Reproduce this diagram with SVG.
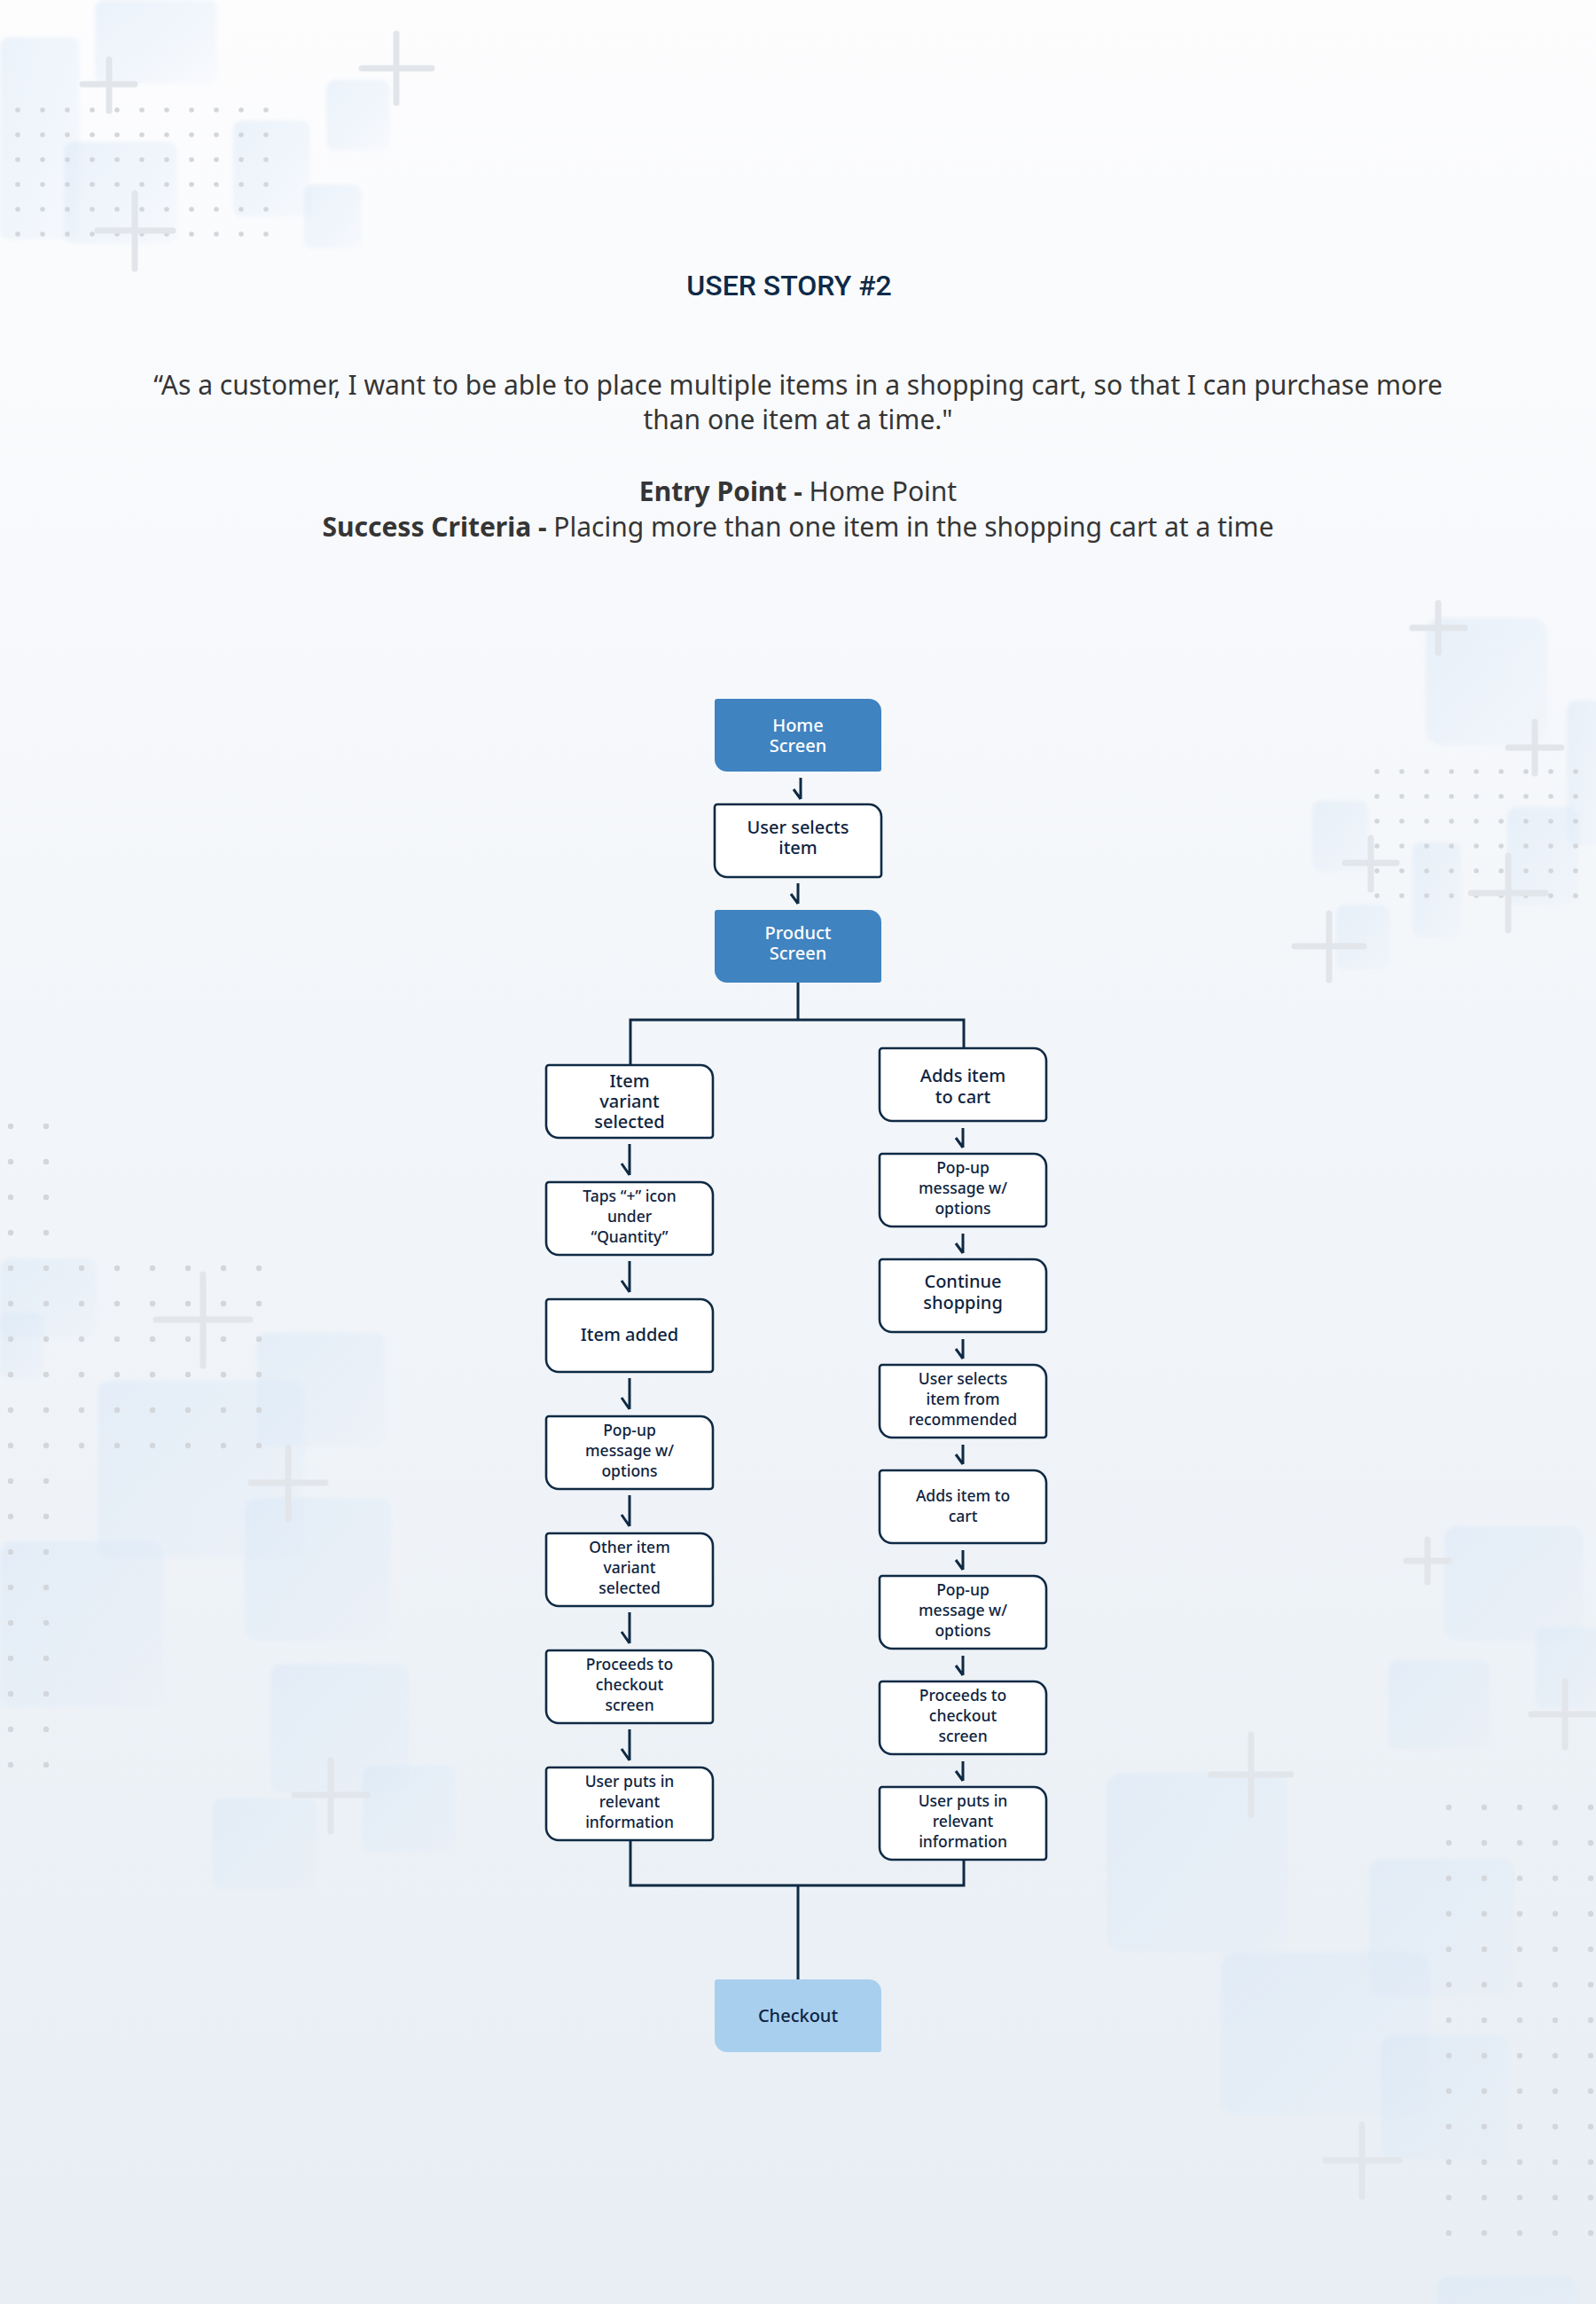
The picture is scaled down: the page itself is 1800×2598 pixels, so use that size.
<svg xmlns="http://www.w3.org/2000/svg" xmlns:xlink="http://www.w3.org/1999/xlink" width="1800" height="2598" viewBox="0 0 1800 2598">
<defs>
<style>
.bgcross{stroke:#e2e5ea;stroke-width:7;stroke-linecap:round;fill:none}
.sq{fill:url(#sqg);filter:url(#soft)}
.box{fill:#ffffff;stroke:#0f2a44;stroke-width:2.6}
.blue{fill:#3f83c1}
.light{fill:#a9cfef}
.conn{fill:none;stroke:#0f2a44;stroke-width:3;stroke-linejoin:miter}
.t{font-family:"Noto Sans","Open Sans","DejaVu Sans",sans-serif;font-weight:500;text-anchor:middle;fill:#0f2440}
.w{fill:#ffffff}
.f20{font-size:20px}
.f17{font-size:17.5px}
.head{font-family:Roboto,"Liberation Sans",sans-serif;font-size:32px;font-weight:500;fill:#0e2a47;text-anchor:middle}
.body{font-family:"Noto Sans","Open Sans",sans-serif;font-size:30px;fill:#353535;text-anchor:middle}
.b{font-weight:bold}
</style>
<filter id="soft" x="-10%" y="-10%" width="120%" height="120%"><feGaussianBlur stdDeviation="2"/></filter>
<linearGradient id="bg" x1="0" y1="0" x2="0" y2="1">
<stop offset="0" stop-color="#fdfdfe"/>
<stop offset="0.3" stop-color="#f6f8fb"/>
<stop offset="1" stop-color="#e8eef4"/>
</linearGradient>
<linearGradient id="sqg" x1="0" y1="0" x2="1" y2="1">
<stop offset="0" stop-color="#d8e7f7" stop-opacity="0.5"/>
<stop offset="1" stop-color="#d8e7f7" stop-opacity="0.12"/>
</linearGradient>
<pattern id="dA" patternUnits="userSpaceOnUse" x="6" y="110" width="28" height="28"><circle cx="14" cy="14" r="2.8" fill="#d3d6db"/></pattern>
<pattern id="dB" patternUnits="userSpaceOnUse" x="1539" y="856" width="28" height="28"><circle cx="14" cy="14" r="2.8" fill="#d3d6db"/></pattern>
<pattern id="dC" patternUnits="userSpaceOnUse" x="-8" y="1250" width="40" height="40"><circle cx="20" cy="20" r="3.2" fill="#d3d6db"/></pattern>
<pattern id="dD" patternUnits="userSpaceOnUse" x="1614" y="2018" width="40" height="40"><circle cx="20" cy="20" r="3.2" fill="#d3d6db"/></pattern>
<path id="leaf" d="M3,0 H174 A14,14 0 0 1 188,14 V79 A3,3 0 0 1 185,82 H14 A14,14 0 0 1 0,68 V3 A3,3 0 0 1 3,0 Z"/>
</defs>

<rect width="1800" height="2598" fill="url(#bg)"/>

<g id="background-decor">
<g id="squares">
<rect class="sq" x="0" y="42" width="90" height="228" rx="10"/>
<rect class="sq" x="107" y="0" width="138" height="95" rx="10"/>
<rect class="sq" x="72" y="160" width="128" height="115" rx="10"/>
<rect class="sq" x="263" y="136" width="87" height="109" rx="10"/>
<rect class="sq" x="368" y="90" width="72" height="80" rx="10"/>
<rect class="sq" x="343" y="208" width="65" height="72" rx="10"/>
<rect class="sq" x="1608" y="697" width="137" height="143" rx="18"/>
<rect class="sq" x="1767" y="790" width="40" height="163" rx="10"/>
<rect class="sq" x="1480" y="903" width="63" height="80" rx="10"/>
<rect class="sq" x="1593" y="950" width="55" height="107" rx="10"/>
<rect class="sq" x="1700" y="910" width="80" height="110" rx="10"/>
<rect class="sq" x="1507" y="1020" width="60" height="73" rx="10"/>
<rect class="sq" x="0" y="1419" width="109" height="89" rx="10"/>
<rect class="sq" x="0" y="1480" width="50" height="75" rx="10"/>
<rect class="sq" x="110" y="1557" width="233" height="200" rx="14"/>
<rect class="sq" x="290" y="1503" width="144" height="129" rx="10"/>
<rect class="sq" x="276" y="1689" width="165" height="161" rx="14"/>
<rect class="sq" x="0" y="1738" width="184" height="187" rx="14"/>
<rect class="sq" x="305" y="1876" width="156" height="146" rx="14"/>
<rect class="sq" x="409" y="1991" width="104" height="97" rx="10"/>
<rect class="sq" x="240" y="2028" width="117" height="102" rx="10"/>
<rect class="sq" x="1629" y="1721" width="157" height="129" rx="14"/>
<rect class="sq" x="1732" y="1835" width="75" height="91" rx="10"/>
<rect class="sq" x="1566" y="1872" width="114" height="101" rx="10"/>
<rect class="sq" x="1248" y="1999" width="204" height="202" rx="18"/>
<rect class="sq" x="1377" y="2201" width="235" height="184" rx="18"/>
<rect class="sq" x="1544" y="2096" width="164" height="155" rx="14"/>
<rect class="sq" x="1558" y="2295" width="143" height="140" rx="14"/>
<rect class="sq" x="1621" y="2567" width="158" height="50" rx="14"/>
</g>
<g id="dots">
<rect x="6" y="110" width="308" height="168" fill="url(#dA)"/>
<rect x="1539" y="856" width="252" height="168" fill="url(#dB)"/>
<rect x="-8" y="1250" width="80" height="760" fill="url(#dC)"/>
<rect x="72" y="1410" width="240" height="240" fill="url(#dC)"/>
<rect x="1614" y="2018" width="200" height="520" fill="url(#dD)"/>
</g>
<g id="crosses">
<path class="bgcross" d="M93,95 H152 M123,67 V125"/>
<path class="bgcross" d="M408,77 H487 M447,38 V116"/>
<path class="bgcross" d="M110,260 H195 M152,218 V303"/>
<path class="bgcross" d="M1593,708 H1652 M1622,680 V736"/>
<path class="bgcross" d="M1701,843 H1761 M1731,814 V872"/>
<path class="bgcross" d="M1517,973 H1575 M1546,945 V1003"/>
<path class="bgcross" d="M1659,1007 H1743 M1701,965 V1049"/>
<path class="bgcross" d="M1460,1067 H1538 M1499,1030 V1105"/>
<path class="bgcross" d="M176,1488 H282 M229,1437 V1540"/>
<path class="bgcross" d="M283,1672 H367 M325,1632 V1713"/>
<path class="bgcross" d="M332,2024 H414 M373,1985 V2065"/>
<path class="bgcross" d="M1586,1760 H1634 M1610,1736 V1784"/>
<path class="bgcross" d="M1727,1933 H1803 M1765,1896 V1970"/>
<path class="bgcross" d="M1366,2001 H1456 M1411,1956 V2046"/>
<path class="bgcross" d="M1495,2436 H1578 M1536,2396 V2477"/>
</g>
</g>

<g id="header">
<text class="head" x="890" y="333">USER STORY #2</text>
<text class="body" x="900" y="445">“As a customer, I want to be able to place multiple items in a shopping cart, so that I can purchase more</text>
<text class="body" x="900" y="484">than one item at a time."</text>
<text class="body" x="900" y="565"><tspan class="b">Entry Point -</tspan> Home Point</text>
<text class="body" x="900" y="605"><tspan class="b">Success Criteria -</tspan> Placing more than one item in the shopping cart at a time</text>
</g>

<g id="connectors">
<path class="conn" d="M903,877 V901 M895,890 L903,901"/>
<path class="conn" d="M900,996 V1019 M892,1008 L900,1019"/>
<path class="conn" d="M900,1108 V1150 M711,1201 V1150 H1087 V1182"/>
<path class="conn" d="M710,1290 V1325 M701,1312 L710,1325"/>
<path class="conn" d="M710,1422 V1457 M701,1444 L710,1457"/>
<path class="conn" d="M710,1554 V1589 M701,1576 L710,1589"/>
<path class="conn" d="M710,1686 V1721 M701,1708 L710,1721"/>
<path class="conn" d="M710,1818 V1853 M701,1840 L710,1853"/>
<path class="conn" d="M710,1950 V1985 M701,1972 L710,1985"/>
<path class="conn" d="M1086,1272 V1294 M1078,1283 L1086,1294"/>
<path class="conn" d="M1086,1391 V1413 M1078,1402 L1086,1413"/>
<path class="conn" d="M1086,1510 V1532 M1078,1521 L1086,1532"/>
<path class="conn" d="M1086,1629 V1651 M1078,1640 L1086,1651"/>
<path class="conn" d="M1086,1748 V1770 M1078,1759 L1086,1770"/>
<path class="conn" d="M1086,1867 V1889 M1078,1878 L1086,1889"/>
<path class="conn" d="M1086,1986 V2008 M1078,1997 L1086,2008"/>
<path class="conn" d="M711,2075 V2126 H1087 V2097 M900,2126 V2232"/>
</g>

<g id="n-home"><use xlink:href="#leaf" x="806" y="788" class="blue"/>
<text class="t w f20" x="900" y="825">Home</text><text class="t w f20" x="900" y="848">Screen</text></g>
<g id="n-user-selects"><use xlink:href="#leaf" x="806" y="907" class="box"/>
<text class="t f20" x="900" y="940">User selects</text><text class="t f20" x="900" y="963">item</text></g>
<g id="n-product"><use xlink:href="#leaf" x="806" y="1026" class="blue"/>
<text class="t w f20" x="900" y="1059">Product</text><text class="t w f20" x="900" y="1082">Screen</text></g>

<g id="n-l1"><use xlink:href="#leaf" x="616" y="1201" class="box"/>
<text class="t f20" x="710" y="1226">Item</text><text class="t f20" x="710" y="1249">variant</text><text class="t f20" x="710" y="1272">selected</text></g>
<g id="n-l2"><use xlink:href="#leaf" x="616" y="1333" class="box"/>
<text class="t f17" x="710" y="1354.5">Taps “+” icon</text><text class="t f17" x="710" y="1377.8">under</text><text class="t f17" x="710" y="1401.1">“Quantity”</text></g>
<g id="n-l3"><use xlink:href="#leaf" x="616" y="1465" class="box"/>
<text class="t f20" x="710" y="1512">Item added</text></g>
<g id="n-l4"><use xlink:href="#leaf" x="616" y="1597" class="box"/>
<text class="t f17" x="710" y="1618.5">Pop-up</text><text class="t f17" x="710" y="1641.8">message w/</text><text class="t f17" x="710" y="1665.1">options</text></g>
<g id="n-l5"><use xlink:href="#leaf" x="616" y="1729" class="box"/>
<text class="t f17" x="710" y="1750.5">Other item</text><text class="t f17" x="710" y="1773.8">variant</text><text class="t f17" x="710" y="1797.1">selected</text></g>
<g id="n-l6"><use xlink:href="#leaf" x="616" y="1861" class="box"/>
<text class="t f17" x="710" y="1882.5">Proceeds to</text><text class="t f17" x="710" y="1905.8">checkout</text><text class="t f17" x="710" y="1929.1">screen</text></g>
<g id="n-l7"><use xlink:href="#leaf" x="616" y="1993" class="box"/>
<text class="t f17" x="710" y="2014.5">User puts in</text><text class="t f17" x="710" y="2037.8">relevant</text><text class="t f17" x="710" y="2061.1">information</text></g>

<g id="n-r1"><use xlink:href="#leaf" x="992" y="1182" class="box"/>
<text class="t f20" x="1086" y="1220">Adds item</text><text class="t f20" x="1086" y="1243.5">to cart</text></g>
<g id="n-r2"><use xlink:href="#leaf" x="992" y="1301" class="box"/>
<text class="t f17" x="1086" y="1322.5">Pop-up</text><text class="t f17" x="1086" y="1345.8">message w/</text><text class="t f17" x="1086" y="1369.1">options</text></g>
<g id="n-r3"><use xlink:href="#leaf" x="992" y="1420" class="box"/>
<text class="t f20" x="1086" y="1452">Continue</text><text class="t f20" x="1086" y="1476">shopping</text></g>
<g id="n-r4"><use xlink:href="#leaf" x="992" y="1539" class="box"/>
<text class="t f17" x="1086" y="1560.5">User selects</text><text class="t f17" x="1086" y="1583.8">item from</text><text class="t f17" x="1086" y="1607.1">recommended</text></g>
<g id="n-r5"><use xlink:href="#leaf" x="992" y="1658" class="box"/>
<text class="t f17" x="1086" y="1693">Adds item to</text><text class="t f17" x="1086" y="1716">cart</text></g>
<g id="n-r6"><use xlink:href="#leaf" x="992" y="1777" class="box"/>
<text class="t f17" x="1086" y="1798.5">Pop-up</text><text class="t f17" x="1086" y="1821.8">message w/</text><text class="t f17" x="1086" y="1845.1">options</text></g>
<g id="n-r7"><use xlink:href="#leaf" x="992" y="1896" class="box"/>
<text class="t f17" x="1086" y="1917.5">Proceeds to</text><text class="t f17" x="1086" y="1940.8">checkout</text><text class="t f17" x="1086" y="1964.1">screen</text></g>
<g id="n-r8"><use xlink:href="#leaf" x="992" y="2015" class="box"/>
<text class="t f17" x="1086" y="2036.5">User puts in</text><text class="t f17" x="1086" y="2059.8">relevant</text><text class="t f17" x="1086" y="2083.1">information</text></g>

<g id="n-checkout"><use xlink:href="#leaf" x="806" y="2232" class="light"/>
<text class="t f20" x="900" y="2280">Checkout</text></g>
</svg>
